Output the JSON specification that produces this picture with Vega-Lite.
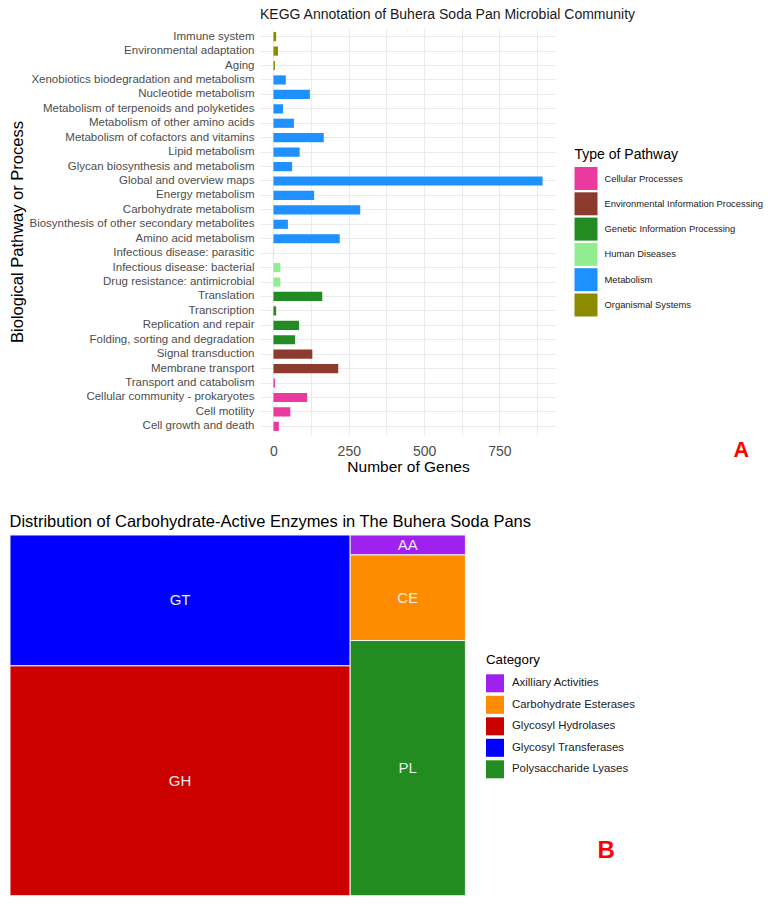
{
  "$schema": "https://vega.github.io/schema/vega-lite/v6.json",
  "background": "white",
  "padding": {"left": 8, "top": 8, "right": 0, "bottom": 0},
  "columns": 2,
  "align": "none",
  "spacing": {"row": 38, "column": 0},
  "resolve": {"scale": {"color": "independent", "x": "independent", "y": "independent"}, "legend": {"color": "independent"}},
  "config": {
    "font": "Liberation Sans",
    "view": {"stroke": null},
    "axis": {"domain": false, "ticks": false, "tickSize": 0, "gridColor": "#EBEBEB", "gridWidth": 1, "labelFont": "Liberation Sans", "titleFont": "Liberation Sans", "titleFontWeight": "normal", "titleColor": "#000000", "labelColor": "#4D4D4D"},
    "legend": {"titleFontWeight": "normal", "titleColor": "#000000", "labelColor": "#1A1A1A", "padding": 0, "symbolType": "square", "symbolStrokeWidth": 0, "symbolOpacity": 1},
    "title": {"fontWeight": "normal", "color": "#1A1A1A"}
  },
  "concat": [
    {
      "width": 1, "height": 1,
      "data": {"values": [{"k": 1}]},
      "mark": {"type": "point", "opacity": 0, "size": 0},
      "encoding": {}
    },
    {
      "title": {"text": "A", "orient": "bottom", "anchor": "start", "frame": "bounds", "offset": 0, "dx": 724, "dy": -35, "color": "#FF0000", "fontSize": 21.5, "fontWeight": "bold", "font": "Liberation Sans"},
      "vconcat": [
        {
          "title": {"text": "KEGG Annotation of Buhera Soda Pan Microbial Community", "anchor": "start", "frame": "group", "fontSize": 14, "offset": 6},
          "width": 296,
          "height": 407,
          "data": {"values": [
            {"pathway": "Immune system", "type": "Organismal Systems", "genes": 9},
            {"pathway": "Environmental adaptation", "type": "Organismal Systems", "genes": 15},
            {"pathway": "Aging", "type": "Organismal Systems", "genes": 5},
            {"pathway": "Xenobiotics biodegradation and metabolism", "type": "Metabolism", "genes": 41},
            {"pathway": "Nucleotide metabolism", "type": "Metabolism", "genes": 121},
            {"pathway": "Metabolism of terpenoids and polyketides", "type": "Metabolism", "genes": 32},
            {"pathway": "Metabolism of other amino acids", "type": "Metabolism", "genes": 68},
            {"pathway": "Metabolism of cofactors and vitamins", "type": "Metabolism", "genes": 167},
            {"pathway": "Lipid metabolism", "type": "Metabolism", "genes": 87},
            {"pathway": "Glycan biosynthesis and metabolism", "type": "Metabolism", "genes": 62},
            {"pathway": "Global and overview maps", "type": "Metabolism", "genes": 893},
            {"pathway": "Energy metabolism", "type": "Metabolism", "genes": 135},
            {"pathway": "Carbohydrate metabolism", "type": "Metabolism", "genes": 288},
            {"pathway": "Biosynthesis of other secondary metabolites", "type": "Metabolism", "genes": 48},
            {"pathway": "Amino acid metabolism", "type": "Metabolism", "genes": 220},
            {"pathway": "Infectious disease: parasitic", "type": "Human Diseases", "genes": 1},
            {"pathway": "Infectious disease: bacterial", "type": "Human Diseases", "genes": 23},
            {"pathway": "Drug resistance: antimicrobial", "type": "Human Diseases", "genes": 23},
            {"pathway": "Translation", "type": "Genetic Information Processing", "genes": 162},
            {"pathway": "Transcription", "type": "Genetic Information Processing", "genes": 9},
            {"pathway": "Replication and repair", "type": "Genetic Information Processing", "genes": 85},
            {"pathway": "Folding, sorting and degradation", "type": "Genetic Information Processing", "genes": 72},
            {"pathway": "Signal transduction", "type": "Environmental Information Processing", "genes": 129},
            {"pathway": "Membrane transport", "type": "Environmental Information Processing", "genes": 215},
            {"pathway": "Transport and catabolism", "type": "Cellular Processes", "genes": 5},
            {"pathway": "Cellular community - prokaryotes", "type": "Cellular Processes", "genes": 112},
            {"pathway": "Cell motility", "type": "Cellular Processes", "genes": 56},
            {"pathway": "Cell growth and death", "type": "Cellular Processes", "genes": 18}
          ]},
          "mark": {"type": "bar"},
          "encoding": {
            "y": {"field": "pathway", "type": "nominal", "sort": null,
                  "scale": {"paddingInner": 0.365, "paddingOuter": 0.2825},
                  "axis": {"title": "Biological Pathway or Process", "labelFontSize": 11.5, "labelPadding": 6, "titleFontSize": 16.5, "titlePadding": 34.5, "grid": true, "bandPosition": 0.5, "labelLimit": 400}},
            "x": {"field": "genes", "type": "quantitative",
                  "scale": {"domain": [-44.65, 937.65], "nice": false, "zero": false},
                  "axis": {"title": "Number of Genes", "values": [0, 125, 250, 375, 500, 625, 750, 875], "labelExpr": "datum.value % 250 === 0 ? datum.label : ''", "labelFontSize": 14, "labelPadding": 9, "titleFontSize": 15.5, "titlePadding": 1, "grid": true}},
            "x2": {"datum": 0},
            "color": {"field": "type", "type": "nominal",
                      "scale": {"domain": ["Cellular Processes", "Environmental Information Processing", "Genetic Information Processing", "Human Diseases", "Metabolism", "Organismal Systems"],
                                "range": ["#EA3AA0", "#8E3B2F", "#228B22", "#90EE90", "#1E90FF", "#8B8B00"]},
                      "legend": {"title": "Type of Pathway", "orient": "none", "legendX": 314.5, "legendY": 120, "titleFontSize": 14, "titlePadding": 5, "labelFontSize": 9.4, "symbolSize": 529, "rowPadding": 2.3, "labelOffset": 7, "labelLimit": 300}}
          }
        }
      ]
    },
    {
      "width": 1, "height": 1,
      "data": {"values": [{"k": 1}]},
      "mark": {"type": "point", "opacity": 0, "size": 0},
      "encoding": {}
    },
    {
      "title": {"text": "B", "orient": "bottom", "anchor": "start", "frame": "bounds", "offset": 0, "dx": 588, "dy": -57, "color": "#FF0000", "fontSize": 24, "fontWeight": "bold", "font": "Liberation Sans"},
      "vconcat": [
        {
          "title": {"text": "Distribution of Carbohydrate-Active Enzymes in The Buhera Soda Pans", "anchor": "start", "fontSize": 16.5, "offset": 4.3, "color": "#000000"},
          "width": 455.4,
          "height": 360.7,
          "data": {"values": [
            {"code": "GT", "category": "Glycosyl Transferases", "column": "left", "count": 271},
            {"code": "GH", "category": "Glycosyl Hydrolases", "column": "left", "count": 476},
            {"code": "AA", "category": "Axilliary Activities", "column": "right", "count": 14},
            {"code": "CE", "category": "Carbohydrate Esterases", "column": "right", "count": 60},
            {"code": "PL", "category": "Polysaccharide Lyases", "column": "right", "count": 179}
          ]},
          "transform": [
            {"stack": "count", "groupby": [], "sort": [{"field": "column", "order": "ascending"}, {"field": "count", "order": "ascending"}], "as": ["s0", "s1"]},
            {"joinaggregate": [{"op": "min", "field": "s0", "as": "cx0"}, {"op": "max", "field": "s1", "as": "cx1"}], "groupby": ["column"]},
            {"stack": "count", "groupby": ["column"], "sort": [{"field": "count", "order": "ascending"}], "offset": "normalize", "as": ["y0", "y1"]}
          ],
          "layer": [
            {
              "mark": {"type": "rect", "stroke": "#F2F2F2", "strokeWidth": 1},
              "encoding": {
                "x": {"field": "cx0", "type": "quantitative", "scale": {"domain": [0, 1000], "nice": false, "zero": false}, "axis": null},
                "x2": {"field": "cx1"},
                "y": {"field": "y0", "type": "quantitative", "scale": {"domain": [0, 1], "nice": false, "reverse": true}, "axis": null},
                "y2": {"field": "y1"},
                "color": {"field": "category", "type": "nominal",
                          "scale": {"domain": ["Axilliary Activities", "Carbohydrate Esterases", "Glycosyl Hydrolases", "Glycosyl Transferases", "Polysaccharide Lyases"],
                                    "range": ["#A020F0", "#FF8C00", "#CD0000", "#0000FF", "#228B22"]},
                          "legend": {"title": "Category", "orient": "none", "legendX": 476, "legendY": 118, "titleFontSize": 13.3, "titlePadding": 8, "labelFontSize": 11.4, "symbolSize": 324, "rowPadding": 3.5, "labelOffset": 8, "labelLimit": 300}}
              }
            },
            {
              "transform": [
                {"fold": ["cx0", "cx1"], "as": ["kx", "xv"]},
                {"fold": ["y0", "y1"], "as": ["ky", "yv"]}
              ],
              "mark": {"type": "text", "color": "#EAEAEA", "fontSize": 15},
              "encoding": {
                "x": {"field": "xv", "aggregate": "mean", "type": "quantitative"},
                "y": {"field": "yv", "aggregate": "mean", "type": "quantitative"},
                "text": {"field": "code", "type": "nominal"}
              }
            }
          ]
        }
      ]
    }
  ]
}
